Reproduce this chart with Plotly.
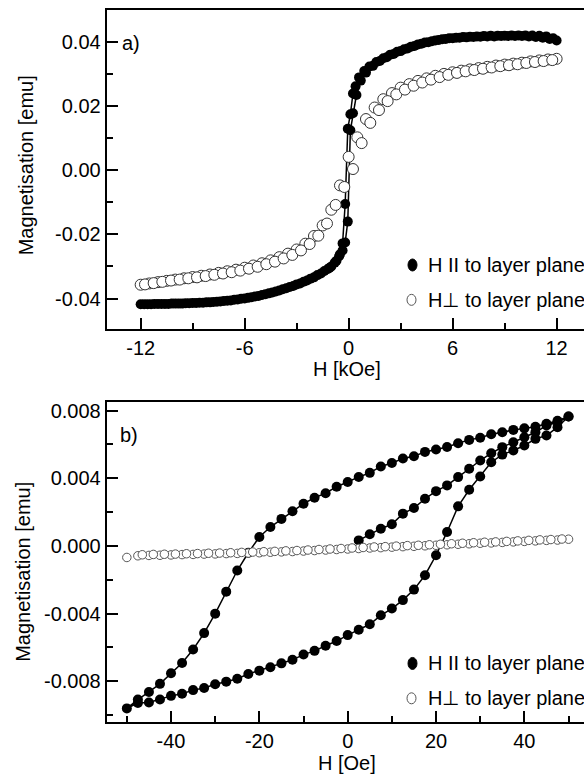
import plotly.graph_objects as go

# ---------------- DATA ----------------
# Panel a) H in kOe, M in emu
a_par_H = [12.0, 11.6, 11.2, 10.8, 10.4, 10.0, 9.6, 9.2, 8.8, 8.4, 8.0, 7.6, 7.2, 6.8, 6.4, 6.0,
           5.6, 5.2, 4.8, 4.4, 4.0, 3.6, 3.2, 2.8, 2.4, 2.0, 1.6, 1.2, 0.9, 0.6, 0.4, 0.25, 0.1,
           -0.05, -0.2, -0.35, -0.5, -0.7, -1.0, -1.2, -1.6, -2.0, -2.4, -2.8, -3.2, -3.6, -4.0,
           -4.4, -4.8, -5.2, -5.6, -6.0, -6.4, -6.8, -7.2, -7.6, -8.0, -8.4, -8.8, -9.2, -9.6,
           -10.0, -10.4, -10.8, -11.2, -11.6, -12.0,
           -11.8, -11.4, -11.0, -10.6, -10.2, -9.8, -9.4, -9.0, -8.6, -8.2, -7.8, -7.4, -7.0,
           -6.6, -6.2, -5.8, -5.4, -5.0, -4.6, -4.2, -3.8, -3.4, -3.0, -2.6, -2.2, -1.8, -1.4,
           -1.1, -0.8, -0.55, -0.35, -0.2, -0.05, 0.1, 0.25, 0.45, 0.7, 1.0, 1.4, 1.8, 2.2, 2.6,
           3.0, 3.4, 3.8, 4.2, 4.6, 5.0, 5.4, 5.8, 6.2, 6.6, 7.0, 7.4, 7.8, 8.2, 8.6, 9.0, 9.4,
           9.8, 10.2, 10.6, 11.0, 11.4, 11.8]
a_par_M = [0.0405, 0.0410, 0.0414, 0.0416, 0.0418, 0.0419, 0.0419, 0.0419, 0.0419, 0.0418, 0.0418,
           0.0417, 0.0416, 0.0415, 0.0414, 0.0412, 0.0410, 0.0407, 0.0403, 0.0399, 0.0393, 0.0386,
           0.0378, 0.0370, 0.0361, 0.0350, 0.0338, 0.0324, 0.0310, 0.0290, 0.0262, 0.0240, 0.0175,
           0.0130, -0.0105, -0.0228, -0.0262, -0.0282, -0.0300, -0.0308, -0.0322, -0.0334, -0.0344,
           -0.0353, -0.0361, -0.0368, -0.0375, -0.0381, -0.0387, -0.0392, -0.0396, -0.0400, -0.0403,
           -0.0406, -0.0408, -0.0410, -0.0412, -0.0413, -0.0414, -0.0415, -0.0416, -0.0416, -0.0417,
           -0.0417, -0.0417, -0.0418, -0.0418,
           -0.0418, -0.0418, -0.0417, -0.0417, -0.0416, -0.0416, -0.0415, -0.0414, -0.0413, -0.0412,
           -0.0411, -0.0409, -0.0407, -0.0404, -0.0401, -0.0398, -0.0394, -0.0389, -0.0384, -0.0378,
           -0.0371, -0.0364, -0.0356, -0.0348, -0.0338, -0.0327, -0.0314, -0.0304, -0.0288, -0.0268,
           -0.0250, -0.0225, -0.0160, 0.0125, 0.0178, 0.0235, 0.0280, 0.0305, 0.0326, 0.0341, 0.0353,
           0.0363, 0.0372, 0.0380, 0.0388, 0.0395, 0.0400, 0.0405, 0.0409, 0.0412, 0.0414, 0.0416,
           0.0417, 0.0418, 0.0419, 0.0420, 0.0420, 0.0420, 0.0421, 0.0421, 0.0421, 0.0421, 0.0420,
           0.0418, 0.0412]

a_perp_H = [12.0, 11.5, 11.0, 10.5, 10.0, 9.5, 9.0, 8.5, 8.0, 7.5, 7.0, 6.5, 6.0, 5.5, 5.0, 4.5,
            4.0, 3.5, 3.0, 2.5, 2.0, 1.5, 1.0, 0.5, 0.0, -0.5, -1.0, -1.5, -2.0, -2.5, -3.0, -3.5,
            -4.0, -4.5, -5.0, -5.5, -6.0, -6.5, -7.0, -7.5, -8.0, -8.5, -9.0, -9.5, -10.0, -10.5,
            -11.0, -11.5, -12.0,
            -11.75, -11.25, -10.75, -10.25, -9.75, -9.25, -8.75, -8.25, -7.75, -7.25, -6.75, -6.25,
            -5.75, -5.25, -4.75, -4.25, -3.75, -3.25, -2.75, -2.25, -1.75, -1.25, -0.75, -0.25,
            0.25, 0.75, 1.25, 1.75, 2.25, 2.75, 3.25, 3.75, 4.25, 4.75, 5.25, 5.75, 6.25, 6.75,
            7.25, 7.75, 8.25, 8.75, 9.25, 9.75, 10.25, 10.75, 11.25, 11.75]
a_perp_M = [0.0348, 0.0346, 0.0343, 0.0340, 0.0336, 0.0333, 0.0330, 0.0327, 0.0323, 0.0319, 0.0315,
            0.0311, 0.0306, 0.0301, 0.0295, 0.0287, 0.0279, 0.0269, 0.0258, 0.0241, 0.0222, 0.0196,
            0.0160, 0.0103, 0.0042, -0.0047, -0.0123, -0.0172, -0.0205, -0.0229, -0.0247, -0.0260,
            -0.0271, -0.0281, -0.0290, -0.0297, -0.0304, -0.0310, -0.0315, -0.0320, -0.0325, -0.0329,
            -0.0333, -0.0337, -0.0341, -0.0345, -0.0349, -0.0353, -0.0357,
            -0.0356, -0.0352, -0.0348, -0.0344, -0.0341, -0.0337, -0.0334, -0.0330, -0.0326, -0.0322,
            -0.0318, -0.0313, -0.0307, -0.0301, -0.0293, -0.0285, -0.0275, -0.0264, -0.0250, -0.0230,
            -0.0204, -0.0166, -0.0108, -0.0052, 0.0004, 0.0085, 0.0148, 0.0188, 0.0216, 0.0237,
            0.0252, 0.0264, 0.0274, 0.0283, 0.0291, 0.0298, 0.0304, 0.0309, 0.0313, 0.0317, 0.0321,
            0.0325, 0.0328, 0.0331, 0.0335, 0.0338, 0.0341, 0.0344]

# Panel b) H in Oe, M in emu
b_par_H = [2.5, 5, 7.5, 10, 12.5, 15, 17.5, 20, 22.5, 25, 27.5, 30, 32.5, 35, 37.5, 40, 42.5, 45, 47.5,
           50, 47.5, 45, 42.5, 40, 37.5, 35, 32.5, 30, 27.5, 25, 22.5, 20, 17.5, 15, 12.5, 10, 7.5, 5,
           2.5, 0, -2.5, -5, -7.5, -10, -12.5, -15, -17.5, -20, -22.5, -25, -27.5, -30, -32.5, -35,
           -37.5, -40, -42.5, -45, -47.5, -50,
           -47.5, -45, -42.5, -40, -37.5, -35, -32.5, -30, -27.5, -25, -22.5, -20, -17.5, -15, -12.5,
           -10, -7.5, -5, -2.5, 0, 2.5, 5, 7.5, 10, 12.5, 15, 17.5, 20, 22.5, 25, 27.5, 30, 32.5, 35,
           37.5, 40, 42.5, 45, 47.5, 50]
b_par_M = [0.00033, 0.00069, 0.00102, 0.00128, 0.00191, 0.00224, 0.00279, 0.00324, 0.00358, 0.00407,
           0.00456, 0.00505, 0.00548, 0.00584, 0.00613, 0.00643, 0.00672, 0.00712, 0.00731,
           0.00765, 0.00740, 0.00722, 0.00705, 0.00695, 0.00686, 0.00672, 0.00660, 0.00640, 0.00627,
           0.00607, 0.00585, 0.00570, 0.00556, 0.00530, 0.00517, 0.00490, 0.00470, 0.00432, 0.00408,
           0.00378, 0.00350, 0.00312, 0.00285, 0.00250, 0.00205, 0.00160, 0.00112, 0.00053, -0.00040,
           -0.00145, -0.00270, -0.00400, -0.00515, -0.00612, -0.00692, -0.00752, -0.00815, -0.00863,
           -0.00908, -0.00960,
           -0.00928, -0.00925, -0.00907, -0.00886, -0.00874, -0.00852, -0.00840, -0.00817, -0.00802,
           -0.00785, -0.00757, -0.00737, -0.00717, -0.00694, -0.00673, -0.00642, -0.00620, -0.00590,
           -0.00562, -0.00527, -0.00495, -0.00463, -0.00410, -0.00370, -0.00320, -0.00258, -0.00173,
           -0.00055, 0.00083, 0.00234, 0.00332, 0.00411, 0.00495, 0.00540, 0.00564, 0.00594, 0.00633,
           0.00653, 0.00702, 0.00765]

b_perp_H = [-50, -47.5, -45, -42.5, -40, -37.5, -35, -32.5, -30, -27.5, -25, -22.5, -20, -17.5, -15,
            -12.5, -10, -7.5, -5, -2.5, 0, 2.5, 5, 7.5, 10, 12.5, 15, 17.5, 20, 22.5, 25, 27.5, 30,
            32.5, 35, 37.5, 40, 42.5, 45, 47.5, 50,
            48.5, 46, 43.5, 41, 38.5, 36, 33.5, 31, 28.5, 26, 23.5, 21, 18.5, 16, 13.5, 11, 8.5, 6,
            3.5, 1, -1.5, -4, -6.5, -9, -11.5, -14, -16.5, -19, -21.5, -24, -26.5, -29, -31.5, -34,
            -36.5, -39, -41.5, -44, -46.5]
b_perp_M = [-0.00068, -0.00058, -0.00056, -0.00055, -0.00053, -0.00051, -0.00050, -0.00048, -0.00047,
            -0.00045, -0.00044, -0.00042, -0.00040, -0.00037, -0.00035, -0.00033, -0.00030, -0.00027,
            -0.00024, -0.00021, -0.00018, -0.00015, -0.00012, -0.00010, -0.00007, -0.00004, -0.00002,
            0.00001, 0.00004, 0.00007, 0.00010, 0.00013, 0.00016, 0.00018, 0.00021, 0.00024, 0.00027,
            0.00030, 0.00033, 0.00035, 0.00040,
            0.00041, 0.00038, 0.00036, 0.00033, 0.00030, 0.00027, 0.00024, 0.00022, 0.00019, 0.00016,
            0.00013, 0.00010, 0.00007, 0.00004, 0.00002, -0.00001, -0.00004, -0.00006, -0.00009,
            -0.00012, -0.00015, -0.00018, -0.00021, -0.00024, -0.00027, -0.00029, -0.00032, -0.00034,
            -0.00036, -0.00038, -0.00040, -0.00042, -0.00043, -0.00045, -0.00046, -0.00048, -0.00049,
            -0.00050, -0.00052]

a_xticks = [-12, -6, 0, 6, 12]
a_xticktext = ["-12", "-6", "0", "6", "12"]
a_yticks = [-0.04, -0.02, 0.0, 0.02, 0.04]
a_yticktext = ["-0.04", "-0.02", "0.00", "0.02", "0.04"]
b_xticks = [-40, -20, 0, 20, 40]
b_xticktext = ["-40", "-20", "0", "20", "40"]
b_yticks = [-0.008, -0.004, 0.0, 0.004, 0.008]
b_yticktext = ["-0.008", "-0.004", "0.000", "0.004", "0.008"]

legend_par = "H II to layer plane"
legend_perp = "H\u22a5 to layer plane"

# ---------------- FIGURE ----------------
# page body margin is removed (see post_script) so the figure fills the window exactly
W, H = 584, 778
FONT = "Arial, Liberation Sans, sans-serif"
FS = 20

def px(x):
    return max(0.0, min(1.0, x / W))

def py(y):
    return max(0.0, min(1.0, 1 - y / H))

fig = go.Figure()

fig.add_trace(go.Scatter(x=a_par_H, y=a_par_M, mode="lines+markers", xaxis="x", yaxis="y",
                         line=dict(color="black", width=1.5),
                         marker=dict(symbol="circle", size=10, color="black"), showlegend=False))
fig.add_trace(go.Scatter(x=a_perp_H, y=a_perp_M, mode="markers", xaxis="x", yaxis="y",
                         marker=dict(symbol="circle", size=11, color="white",
                                     line=dict(color="#333333", width=1)), showlegend=False))
fig.add_trace(go.Scatter(x=b_par_H, y=b_par_M, mode="lines+markers", xaxis="x2", yaxis="y2",
                         line=dict(color="black", width=1.5),
                         marker=dict(symbol="circle", size=10, color="black"), showlegend=False))
fig.add_trace(go.Scatter(x=b_perp_H, y=b_perp_M, mode="markers", xaxis="x2", yaxis="y2",
                         marker=dict(symbol="circle", size=8.5, color="white",
                                     line=dict(color="#555555", width=1)), showlegend=False))

axis_common = dict(showline=True, linecolor="black", linewidth=2, showgrid=False, zeroline=False,
                   ticks="inside", tickcolor="black", tickwidth=2, ticklen=11,
                   tickfont=dict(family=FONT, size=FS, color="black"))

top_dom = [py(327.2), py(7.3)]
bot_dom = [py(721.7), py(400.7)]
x_dom = [px(106.7), 1.0]

fig.update_layout(
    width=W, height=H, margin=dict(l=0, r=0, t=0, b=0),
    paper_bgcolor="white", plot_bgcolor="white",
    font=dict(family=FONT, size=FS, color="black"),
    xaxis=dict(domain=x_dom, anchor="y", range=[-13.96, 13.58], mirror=True,
               tickvals=a_xticks, ticktext=a_xticktext,
               minor=dict(dtick=3, tick0=0, ticks="inside", ticklen=6, tickwidth=2, tickcolor="black"),
               **axis_common),
    yaxis=dict(domain=top_dom, anchor="x", range=[-0.0495, 0.04995],
               tickvals=a_yticks, ticktext=a_yticktext,
               minor=dict(dtick=0.01, tick0=0, ticks="inside", ticklen=6, tickwidth=2, tickcolor="black"),
               **axis_common),
    xaxis2=dict(domain=x_dom, anchor="y2", range=[-54.56, 53.5], mirror=True,
                tickvals=b_xticks, ticktext=b_xticktext,
                minor=dict(dtick=10, tick0=0, ticks="inside", ticklen=6, tickwidth=2, tickcolor="black"),
                **axis_common),
    yaxis2=dict(domain=bot_dom, anchor="x2", range=[-0.0104, 0.0085],
                tickvals=b_yticks, ticktext=b_yticktext,
                minor=dict(dtick=0.002, tick0=0, ticks="inside", ticklen=6, tickwidth=2, tickcolor="black"),
                **axis_common),
)

annos = []
def txt(x, y, s, xanchor="center", angle=0):
    annos.append(dict(x=px(x), y=py(y), xref="paper", yref="paper", text=s, showarrow=False,
                      xanchor=xanchor, yanchor="middle", textangle=angle,
                      font=dict(family=FONT, size=FS, color="black")))

txt(26, 163, "Magnetisation [emu]", angle=-90)
txt(23, 571, "Magnetisation [emu]", angle=-90)
txt(347, 367, "H [kOe]")
txt(347, 763, "H [Oe]")
txt(120, 40, "a)", xanchor="left")
txt(118, 434, "b)", xanchor="left")
for yrow in (263, 663):
    txt(426, yrow, legend_par, xanchor="left")
for yrow in (298, 698):
    txt(426, yrow, legend_perp, xanchor="left")
fig.update_layout(annotations=annos)

shapes = []
for yrow in (263, 663):
    shapes.append(dict(type="circle", xref="paper", yref="paper", xsizemode="pixel", ysizemode="pixel",
                       xanchor=px(412.5), yanchor=py(yrow), x0=-4.5, x1=4.5, y0=-6, y1=6,
                       fillcolor="black", line=dict(color="black", width=1)))
for yrow in (298, 698):
    shapes.append(dict(type="circle", xref="paper", yref="paper", xsizemode="pixel", ysizemode="pixel",
                       xanchor=px(411.5), yanchor=py(yrow), x0=-4.5, x1=4.5, y0=-5.5, y1=5.5,
                       fillcolor="white", line=dict(color="#555555", width=1)))
fig.update_layout(shapes=shapes)

fig.write_html("out.html", config={"displayModeBar": False},
               post_script="document.body.style.margin='0px';document.body.style.overflow='hidden';")
